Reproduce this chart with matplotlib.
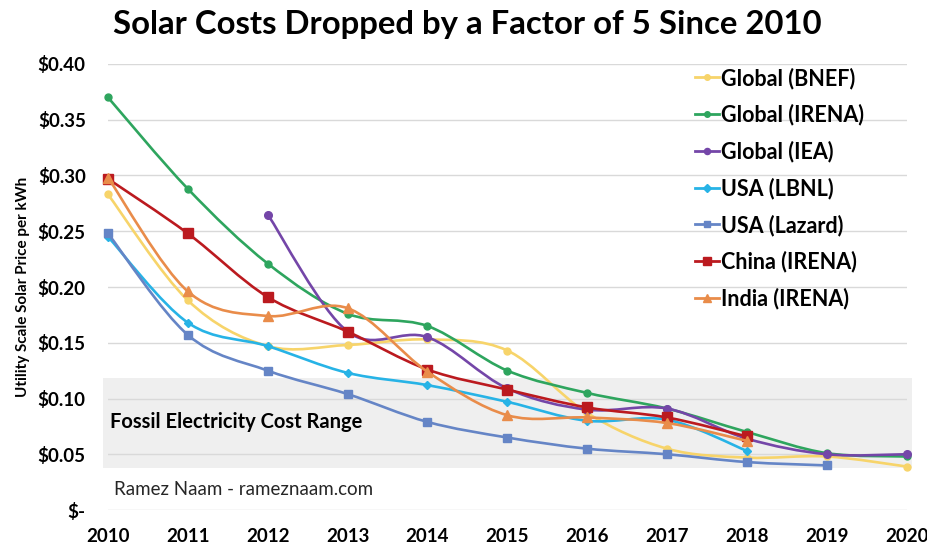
import numpy as np
import matplotlib
matplotlib.use("Agg")
import matplotlib.pyplot as plt
from matplotlib.path import Path
from matplotlib.patches import PathPatch, Rectangle
from matplotlib.lines import Line2D

plt.rcParams['font.family'] = ['Lato', 'DejaVu Sans']

years = list(range(2010, 2021))

bnef = [0.283, 0.188, 0.147, 0.148, 0.153, 0.143, 0.087, 0.055, 0.047, 0.048, 0.039]
irena_global = [0.370, 0.288, 0.221, 0.176, 0.165, 0.125, 0.105, 0.091, 0.070, 0.051, 0.048]
iea = [None, None, 0.265, 0.160, 0.155, 0.109, 0.090, 0.091, 0.064, 0.050, 0.050]
lbnl = [0.245, 0.168, 0.147, 0.123, 0.112, 0.097, 0.080, 0.081, 0.053, None, None]
lazard = [0.248, 0.157, 0.125, 0.104, 0.079, 0.065, 0.055, 0.050, 0.043, 0.040, None]
china = [0.297, 0.248, 0.191, 0.160, 0.126, 0.108, 0.092, 0.083, 0.066, None, None]
india = [0.298, 0.196, 0.174, 0.181, 0.124, 0.085, 0.083, 0.078, 0.062, None, None]

series = [
    ("Global (BNEF)", bnef, "#f7d46a", "o", 5),
    ("Global (IRENA)", irena_global, "#2ea55e", "o", 5),
    ("Global (IEA)", iea, "#7446a8", "o", 5.5),
    ("USA (LBNL)", lbnl, "#27b3e6", "D", 4.5),
    ("USA (Lazard)", lazard, "#6585c6", "s", 5.5),
    ("China (IRENA)", china, "#bb1a1f", "s", 6.5),
    ("India (IRENA)", india, "#e98c4a", "^", 6.5),
]

ytick_vals = [0, 0.05, 0.10, 0.15, 0.20, 0.25, 0.30, 0.35, 0.40]
ytick_labels = ["$-", "$0.05", "$0.10", "$0.15", "$0.20", "$0.25", "$0.30", "$0.35", "$0.40"]
fossil_range = (0.038, 0.118)


def smooth_path(x, y):
    # Bezier segments through every point, like a spreadsheet's smoothed line
    pts = np.column_stack([x, y])
    n = len(pts)
    verts = [pts[0]]
    codes = [Path.MOVETO]
    for i in range(n - 1):
        p0 = pts[max(i - 1, 0)]
        p1 = pts[i]
        p2 = pts[i + 1]
        p3 = pts[min(i + 2, n - 1)]
        c1 = p1 + (p2 - p0) / 6.0
        c2 = p2 - (p3 - p1) / 6.0
        verts += [c1, c2, p2]
        codes += [Path.CURVE4] * 3
    return Path(verts, codes)


fig = plt.figure(figsize=(9.28, 5.46), dpi=100)
ax = fig.add_axes([0.1164, 0.0659, 0.8606, 0.8169])
ax.set_xlim(2010, 2020)
ax.set_ylim(0, 0.40)

# grey band for the fossil cost range
ax.add_patch(Rectangle((2009.94, fossil_range[0]), 10.13, fossil_range[1] - fossil_range[0],
                       facecolor="#efefef", edgecolor="none", zorder=0, clip_on=False))
for v in ytick_vals:
    ax.axhline(v, color="#d9d9d9", lw=1, zorder=0.5)

handles = []
for k, (name, vals, color, marker, ms) in enumerate(series):
    xs = [yr for yr, v in zip(years, vals) if v is not None]
    ys = [v for v in vals if v is not None]
    ax.add_patch(PathPatch(smooth_path(xs, ys), facecolor="none", edgecolor=color,
                           lw=1.9, zorder=2 + k, clip_on=False, capstyle="round"))
    ax.plot(xs, ys, ls="none", marker=marker, ms=ms, color=color, zorder=2 + k, clip_on=False)
    handles.append(Line2D([], [], color=color, lw=2, marker=marker, ms=ms * 0.8, label=name))

ax.set_yticks(ytick_vals)
ax.set_yticklabels(ytick_labels, fontsize=13.5, fontweight="bold")
ax.set_xticks(years)
ax.set_xticklabels([str(y) for y in years], fontsize=13.5, fontweight="bold")
ax.tick_params(axis="y", length=0, pad=16)
ax.tick_params(axis="x", length=0, pad=13)
for s in ax.spines.values():
    s.set_visible(False)

ax.set_ylabel("Utility Scale Solar Price per kWh", fontsize=11, fontweight="bold")
ax.yaxis.set_label_coords(-0.098, 0.5)

fig.text(0.504, 0.955, "Solar Costs Dropped by a Factor of 5 Since 2010",
         ha="center", va="center", fontsize=23.7, fontweight="bold")

ax.text(2010.02, 0.079, "Fossil Electricity Cost Range", fontsize=14.5, fontweight="bold",
        va="center", ha="left", zorder=20)
ax.text(2010.08, 0.018, "Ramez Naam - rameznaam.com", fontsize=13.5,
        va="center", ha="left", color="#262626", zorder=20)

ax.legend(handles=handles, loc="upper left", bbox_to_anchor=(0.749, 0.877),
          bbox_transform=fig.transFigure, frameon=False, handlelength=1.1,
          handletextpad=0.1, labelspacing=0.70, borderpad=0, borderaxespad=0,
          prop={"weight": "bold", "size": 15.5})

fig.savefig("out.png", dpi=100)
